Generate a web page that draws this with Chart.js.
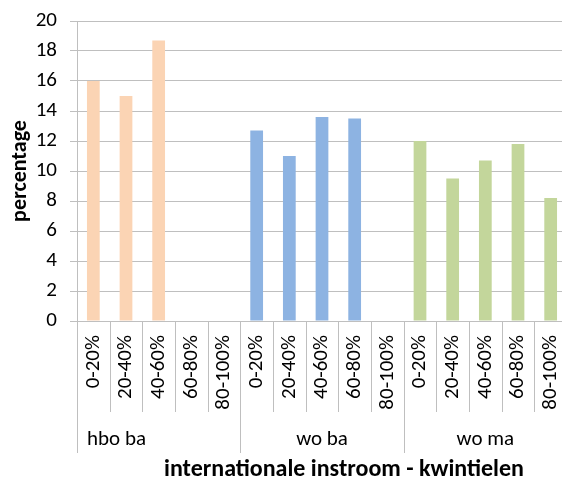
<!DOCTYPE html>
<html><head><meta charset="utf-8">
<script src="https://cdn.jsdelivr.net/npm/chart.js@4.4.0/dist/chart.umd.min.js"></script>
<style>html,body{margin:0;padding:0;overflow:hidden;background:#fff}#wrap{width:570px;height:480px;position:relative}</style>
</head><body><div id="wrap"><canvas id="c" width="570" height="480"></canvas></div>
<script>
const groups = ['hbo ba', 'wo ba', 'wo ma'];
const quintiles = ['0-20%', '20-40%', '40-60%', '60-80%', '80-100%'];
const hboBa = [16.0, 15.0, 18.7, null, null];
const woBa = [12.7, 11.0, 13.6, 13.5, null];
const woMa = [12.0, 9.5, 10.7, 11.8, 8.2];
const groupColors = ['#FBD4B4', '#8DB3E2', '#C3D69B'];
const yTitle = 'percentage';
const xTitle = 'internationale instroom - kwintielen';

const seriesByGroup = [hboBa, woBa, woMa];
const labels = [];
const values = [];
const colors = [];
seriesByGroup.forEach((s, g) => {
  quintiles.forEach((q, i) => {
    labels.push(q);
    values.push(s[i]);
    colors.push(groupColors[g]);
  });
});

const FONT = 'Carlito, Calibri, Lato, sans-serif';
const GRID = '#BFBFBF';

const sepPlugin = {
  id: 'sep',
  afterDraw(chart) {
    const ctx = chart.ctx;
    const xs = chart.scales.x;
    const area = chart.chartArea;
    const n = labels.length;
    const step = (xs.getPixelForValue(1) - xs.getPixelForValue(0));
    const boundary = i => xs.getPixelForValue(0) - step / 2 + i * step;
    ctx.save();
    ctx.strokeStyle = GRID;
    ctx.lineWidth = 1;
    for (let i = 0; i <= n; i++) {
      const x = Math.round(boundary(i)) + 0.5;
      const isGroup = i % quintiles.length === 0;
      ctx.beginPath();
      ctx.moveTo(x, i === 0 ? area.top : area.bottom);
      ctx.lineTo(x, isGroup ? area.bottom + 132 : area.bottom + 91);
      ctx.stroke();
    }
    ctx.fillStyle = '#000';
    ctx.font = '21px ' + FONT;
    ctx.textBaseline = 'middle';
    groups.forEach((g, gi) => {
      const x0 = boundary(gi * quintiles.length);
      const x1 = boundary((gi + 1) * quintiles.length);
      if (gi === 0) {
        ctx.textAlign = 'left';
        ctx.fillText(g, x0 + 10, area.bottom + 119);
      } else {
        ctx.textAlign = 'center';
        ctx.fillText(g, (x0 + x1) / 2, area.bottom + 119);
      }
    });
    ctx.font = 'bold 24px ' + FONT;
    ctx.textAlign = 'center';
    ctx.fillText(xTitle, area.left + 267, area.bottom + 149);
    ctx.restore();
  }
};

new Chart(document.getElementById('c'), {
  type: 'bar',
  data: {
    labels: labels,
    datasets: [{
      data: values,
      backgroundColor: colors,
      borderWidth: 0,
      categoryPercentage: 1.0,
      barPercentage: 0.39
    }]
  },
  options: {
    responsive: false,
    animation: false,
    devicePixelRatio: 1,
    layout: { padding: { top: 21, right: 3, left: 0, bottom: 0 } },
    plugins: { legend: { display: false }, tooltip: { enabled: false } },
    scales: {
      x: {
        grid: { display: false, drawTicks: false },
        border: { display: false },
        ticks: {
          autoSkip: false,
          maxRotation: 90,
          minRotation: 90,
          padding: 14,
          color: '#000',
          font: { family: FONT, size: 21 }
        },
        afterFit(scale) { scale.height = 159; scale.paddingRight = 0; scale.paddingLeft = 0; }
      },
      y: {
        min: 0,
        max: 20,
        ticks: {
          stepSize: 2,
          padding: 13,
          color: '#000',
          font: { family: FONT, size: 21 }
        },
        grid: { color: GRID, lineWidth: 1, tickLength: 7 },
        border: { display: true, color: GRID },
        title: {
          display: true,
          text: yTitle,
          color: '#000',
          padding: { top: 7, bottom: 0 },
          font: { family: FONT, size: 22, weight: 'bold' }
        },
        afterFit(scale) { scale.width = 77; scale.paddingTop = 0; scale.paddingBottom = 0; }
      }
    }
  },
  plugins: [sepPlugin]
});
</script>
</body></html>
